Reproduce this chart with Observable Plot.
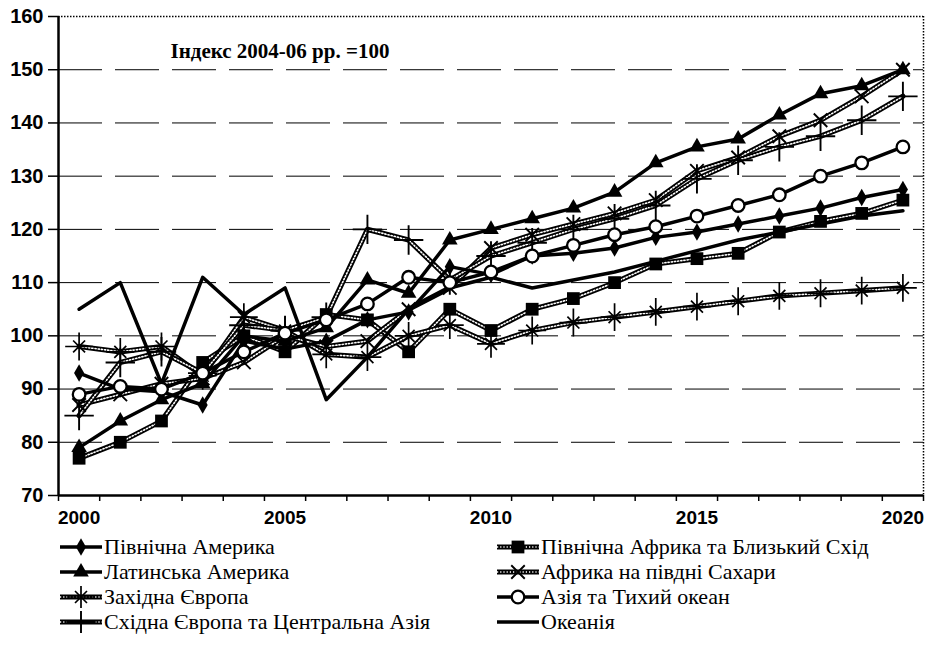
<!DOCTYPE html>
<html><head><meta charset="utf-8">
<script src="https://cdn.jsdelivr.net/npm/d3@7"></script>
<script src="https://cdn.jsdelivr.net/npm/@observablehq/plot@0.6"></script>
<style>
body{margin:0;background:#fff;}
#chart{width:935px;}
.legend{display:grid;grid-template-columns:437px auto;grid-template-rows:repeat(4,25px);grid-auto-flow:column;margin:2px 0 0 60px;font-family:"Liberation Serif","Times New Roman",serif;font-size:22px;color:#000;}
.item{display:flex;align-items:center;white-space:nowrap;}
.item svg{flex:none;margin-right:2px;}
</style></head><body>
<div id="chart"></div>
<script>
const years = d3.range(2000, 2021);
const xDomain = [1999.5, 2020.5];
const yDomain = [70, 160];
const yTicks = d3.range(70, 161, 10);
const gridTicks = d3.range(80, 151, 10);
const xLabelYears = [2000, 2005, 2010, 2015, 2020];
const xTickPositions = d3.range(1999.5, 2021, 1);
const note = "Індекс 2004-06 рр. =100";

const northAmerica = [93, 90, 89.5, 87, 99, 97.5, 99, 103, 104.5, 113, 111.5, 115, 115.5, 116.5, 118.5, 119.5, 121, 122.5, 124, 126, 127.5];
const northAfrica  = [77, 80, 84, 95, 100, 97, 104, 103, 97, 105, 101, 105, 107, 110, 113.5, 114.5, 115.5, 119.5, 121.5, 123, 125.5];
const latinAmerica = [79, 84, 88, 91, 100, 99, 101.5, 110.5, 108, 118, 120, 122, 124, 127, 132.5, 135.5, 137, 141.5, 145.5, 147, 150];
const africaSS     = [87, 89, 91, 92, 95, 100, 98, 99, 105, 109, 116.5, 119, 121, 123, 125.5, 131, 133.5, 137.5, 140.5, 145, 150];
const westEurope   = [98, 97, 98, 92.5, 103.5, 101, 96.5, 96, 100, 102, 98.5, 101, 102.5, 103.5, 104.5, 105.5, 106.5, 107.5, 108, 108.5, 109];
const asiaPacific  = [89, 90.5, 90, 93, 97, 100.5, 103, 106, 111, 110, 112, 115, 117, 119, 120.5, 122.5, 124.5, 126.5, 130, 132.5, 135.5];
const eastEurope   = [85, 95, 97, 93, 102, 101, 103.5, 120, 118, 110.5, 115, 117.5, 120, 122, 124.5, 129.5, 133, 135.5, 137.5, 140.5, 145];
const oceania      = [105, 110, 91, 111, 104, 109, 88, 96, 105, 109, 111, 109, 110.5, 112, 114, 116, 118, 119.5, 121, 122.5, 123.5];

const names = {
  na: "Північна Америка", naf: "Північна Африка та Близький Схід",
  la: "Латинська Америка", ass: "Африка на півдні Сахари",
  we: "Західна Європа", ap: "Азія та Тихий океан",
  ee: "Східна Європа та Центральна Азія", oc: "Океанія"
};

// style definitions (not data)
const series = [
  {key:"naf", values:northAfrica, chain:true, markers:[{symbol:"square", r:7.2, fill:"#000", stroke:"none"}]},
  {key:"we", values:westEurope, chain:true, markers:[{symbol:"plus", r:9, fill:"none", stroke:"#000", sw:1.7},{symbol:"times", r:5.5, fill:"none", stroke:"#000", sw:1.7}]},
  {key:"ass", values:africaSS, chain:true, markers:[{symbol:"times", r:6.2, fill:"none", stroke:"#000", sw:1.9}]},
  {key:"ee", values:eastEurope, chain:true, markers:[{symbol:"plus", r:9.5, fill:"none", stroke:"#000", sw:1.9}]},
  {key:"na", values:northAmerica, chain:false, markers:[{symbol:"diamond", r:5.3, fill:"#000", stroke:"none"}]},
  {key:"la", values:latinAmerica, chain:false, markers:[{symbol:"triangle", r:5.8, fill:"#000", stroke:"none"}]},
  {key:"ap", values:asiaPacific, chain:false, markers:[{symbol:"circle", r:6.3, fill:"#fff", stroke:"#000", sw:2.3}]},
  {key:"oc", values:oceania, chain:false, markers:[]}
];

const chainOuter = {stroke:"#000", strokeWidth:5.2};
const chainInner = {stroke:"#fff", strokeWidth:1.6, strokeDasharray:"1.2,2"};

const marks = [
  Plot.gridY(gridTicks, {stroke:"#000", strokeOpacity:1, strokeWidth:1, strokeDasharray:"44,13"}),
  Plot.ruleY([yDomain[1]], {stroke:"#000", strokeWidth:1.5, strokeDasharray:"1.5,1.5"}),
  Plot.ruleX([xDomain[1]], {stroke:"#000", strokeWidth:1.5, strokeDasharray:"1.5,1.5"})
];

for (const s of series) {
  const rows = years.map((year, i) => ({year, value: s.values[i]}));
  if (s.chain) {
    marks.push(Plot.line(rows, {x:"year", y:"value", ...chainOuter}));
    marks.push(Plot.line(rows, {x:"year", y:"value", ...chainInner}));
  } else {
    marks.push(Plot.line(rows, {x:"year", y:"value", stroke:"#000", strokeWidth:3.5}));
  }
}
for (const s of series) {
  const rows = years.map((year, i) => ({year, value: s.values[i]}));
  for (const m of s.markers) {
    marks.push(Plot.dot(rows, {x:"year", y:"value", symbol:m.symbol, r:m.r, fill:m.fill, stroke:m.stroke, strokeWidth:m.sw || 1}));
  }
}

marks.push(
  Plot.ruleX([xDomain[0]], {stroke:"#000", strokeWidth:2.5}),
  Plot.ruleY([yDomain[0]], {stroke:"#000", strokeWidth:2.5}),
  Plot.axisY(yTicks, {tickSize:10, tickPadding:5, strokeWidth:1.5, fontSize:20, fontWeight:"bold", fontFamily:"Liberation Sans, Arial, sans-serif", label:null}),
  Plot.axisX(xTickPositions, {tickSize:6, strokeWidth:1.5, tickFormat:() => "", label:null}),
  Plot.axisX(xLabelYears, {tickSize:0, tickPadding:15, fontSize:19, fontWeight:"bold", fontFamily:"Liberation Sans, Arial, sans-serif", tickFormat:d => String(d), label:null}),
  Plot.text([note], {frameAnchor:"top-left", dx:112, dy:35, lineAnchor:"middle", textAnchor:"start", fontFamily:"Liberation Serif, Times New Roman, serif", fontWeight:"bold", fontSize:21, fill:"#000"})
);

const chart = Plot.plot({
  width: 935,
  height: 532,
  marginLeft: 58,
  marginRight: 12,
  marginTop: 16,
  marginBottom: 37,
  x: {type:"linear", domain:xDomain},
  y: {domain:yDomain},
  style: {background:"#fff", color:"#000"},
  marks
});
document.getElementById("chart").appendChild(chart);

// legend
const legend = document.createElement("div");
legend.className = "legend";
const order = ["na","la","we","ee","naf","ass","ap","oc"];
const symMap = {square:d3.symbolSquare, plus:d3.symbolPlus, times:d3.symbolTimes, diamond:d3.symbolDiamond, triangle:d3.symbolTriangle, circle:d3.symbolCircle};
for (const key of order) {
  const s = series.find(d => d.key === key);
  const item = document.createElement("div");
  item.className = "item";
  let svg = `<svg width="42" height="22" viewBox="0 0 42 22">`;
  if (s.chain) {
    svg += `<line x1="0" y1="11" x2="42" y2="11" stroke="#000" stroke-width="${chainOuter.strokeWidth}"/><line x1="0" y1="11" x2="42" y2="11" stroke="#fff" stroke-width="${chainInner.strokeWidth}" stroke-dasharray="${chainInner.strokeDasharray}"/>`;
  } else {
    svg += `<line x1="0" y1="11" x2="42" y2="11" stroke="#000" stroke-width="3.5"/>`;
  }
  for (const m of s.markers) {
    const p = d3.symbol(symMap[m.symbol], Math.PI * m.r * m.r)();
    svg += `<path transform="translate(21,11)" d="${p}" fill="${m.fill}" stroke="${m.stroke}" stroke-width="${m.sw || 1}"/>`;
  }
  svg += `</svg>`;
  item.innerHTML = svg + `<span>${names[key]}</span>`;
  legend.appendChild(item);
}
document.body.appendChild(legend);
</script>
</body></html>
